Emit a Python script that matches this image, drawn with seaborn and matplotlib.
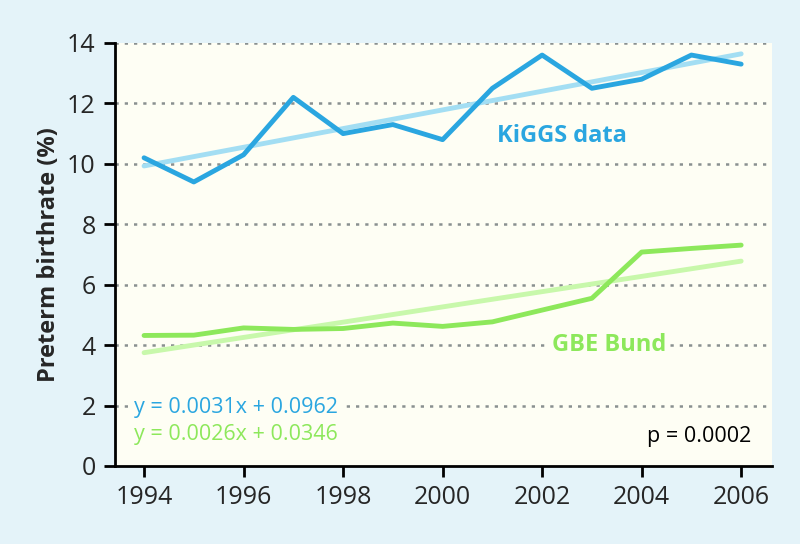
import numpy as np
import pandas as pd
import seaborn as sns
from matplotlib import pyplot as plt

# data
years = list(range(1994, 2007))
kiggs = [10.2, 9.4, 10.3, 12.2, 11.0, 11.3, 10.8, 12.5, 13.6, 12.5, 12.8, 13.6, 13.3]
gbe = [4.32, 4.33, 4.57, 4.52, 4.55, 4.73, 4.62, 4.77, 5.16, 5.55, 7.08, 7.2, 7.31]
trend_years = [1994, 2006]
kiggs_trend = [9.93, 13.64]
gbe_trend = [3.75, 6.78]
y_ticks = [0, 2, 4, 6, 8, 10, 12, 14]
x_ticks = [1994, 1996, 1998, 2000, 2002, 2004, 2006]

blue = '#2aa6e0'
blue_light = '#a3def3'
green = '#8de85b'
green_light = '#c8f8ab'
cream = '#fefef4'
outer = '#e4f3f9'

sns.set_theme(style='white')
plt.rcParams['font.family'] = ['Open Sans', 'DejaVu Sans']

fig = plt.figure(figsize=(8, 5.44), dpi=100, facecolor=outer)
ax = fig.add_axes([0.144, 0.1434, 0.821, 0.7776])
ax.set_facecolor(cream)

df = pd.DataFrame({'year': years, 'kiggs': kiggs, 'gbe': gbe})
tr = pd.DataFrame({'year': trend_years, 'kiggs': kiggs_trend, 'gbe': gbe_trend})

# gridlines
for yv in y_ticks[1:]:
    ax.axhline(yv, color='#8a9090', linestyle=(0, (1.3, 2.4)), linewidth=1.8, zorder=1)

sns.lineplot(data=tr, x='year', y='kiggs', color=blue_light, linewidth=3.5, ax=ax, zorder=2)
sns.lineplot(data=tr, x='year', y='gbe', color=green_light, linewidth=3.5, ax=ax, zorder=2)
sns.lineplot(data=df, x='year', y='kiggs', color=blue, linewidth=3.5, ax=ax, zorder=3)
sns.lineplot(data=df, x='year', y='gbe', color=green, linewidth=3.5, ax=ax, zorder=3)

ax.set_xlim(1993.42, 2006.62)
ax.set_ylim(0, 14)
ax.set_xticks(x_ticks)
ax.set_yticks(y_ticks)
ax.tick_params(axis='both', direction='out', length=8, width=2, color='black',
               labelsize=18, pad=6, left=True, bottom=True)
ax.set_xlabel('')
ax.set_ylabel('Preterm birthrate (%)', fontsize=17, fontweight='bold', labelpad=4)
for s in ['top', 'right']:
    ax.spines[s].set_visible(False)
for s in ['left', 'bottom']:
    ax.spines[s].set_color('black')
    ax.spines[s].set_linewidth(2)

box = dict(facecolor=cream, edgecolor='none', pad=2)
ax.text(2002.4, 10.93, 'KiGGS data', color=blue, fontsize=17, fontweight='bold',
        ha='center', va='center', zorder=4)
ax.text(2003.35, 4.0, 'GBE Bund', color=green, fontsize=17, fontweight='bold',
        ha='center', va='center', bbox=box, zorder=4)
ax.text(1993.8, 1.92, 'y = 0.0031x + 0.0962', color=blue, fontsize=15.5,
        ha='left', va='center', bbox=box, zorder=4)
ax.text(1993.8, 1.03, 'y = 0.0026x + 0.0346', color=green, fontsize=15.5,
        ha='left', va='center', bbox=box, zorder=4)
ax.text(2006.2, 0.96, 'p = 0.0002', color='black', fontsize=15.5,
        ha='right', va='center', zorder=4)

fig.savefig('out.png', dpi=100, facecolor=outer)
